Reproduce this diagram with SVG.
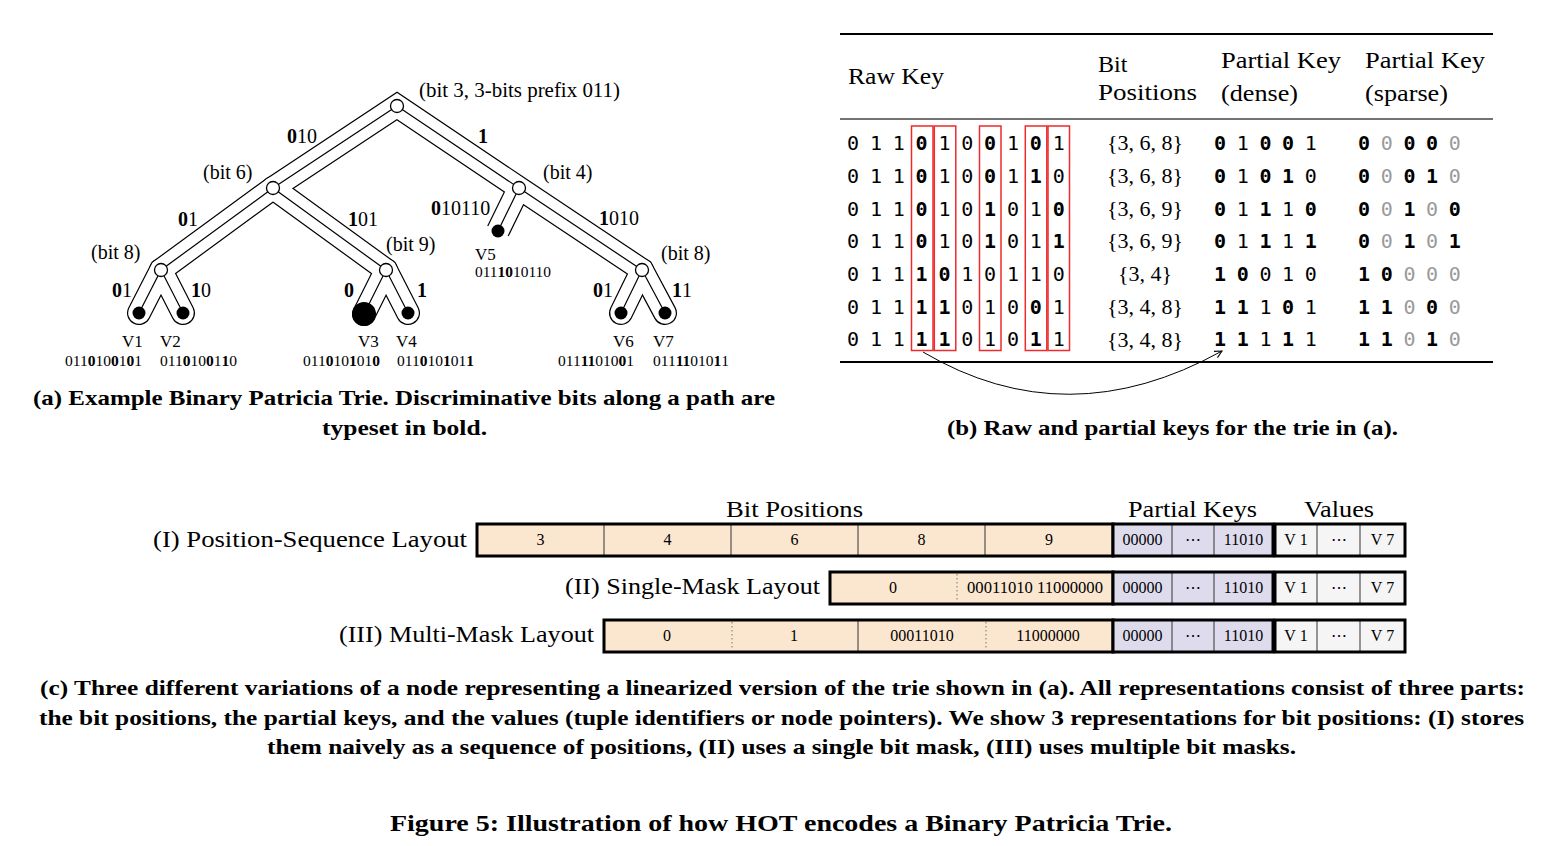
<svg xmlns="http://www.w3.org/2000/svg" width="1560" height="846" viewBox="0 0 1560 846">
<style>
text{font-family:"Liberation Serif","Times New Roman",serif;fill:#000}
.tl{font-size:20px}
.vl{font-size:17px}
.key{font-size:15.5px}
.b{font-weight:bold}
.mono{font-family:"DejaVu Sans Mono","Liberation Mono",monospace;font-size:20px;text-anchor:middle}
.g{fill:#9a9a9a}
.hd{font-size:24px}
.bp{font-size:22px;text-anchor:middle}
.cap{font-size:21px;font-weight:bold}
.lay{font-size:24px}
.cell{font-size:16px;text-anchor:middle}
.tubeB{fill:none;stroke:#000;stroke-width:24;stroke-linecap:round;stroke-linejoin:miter;stroke-miterlimit:10}
.tubeW{fill:none;stroke:#fff;stroke-width:21.6;stroke-linecap:round;stroke-linejoin:miter;stroke-miterlimit:10}
.cl{stroke:#000;stroke-width:1.2;fill:none}
.inner{fill:#fff;stroke:#000;stroke-width:1.3}
.leaf{fill:#000}
.rbox{fill:none;stroke:#ee2a2a;stroke-width:1.5}
.peach{fill:#fbe6cf}
.lav{fill:#dedcec}
.val{fill:#f5f5f5}
.div{stroke:#333;stroke-width:1}
.dot{stroke:#777;stroke-width:1;stroke-dasharray:1.5 2.5}
.frame{fill:none;stroke:#000;stroke-width:3}
</style>
<defs>
<marker id="arr" viewBox="0 0 10 10" refX="9" refY="5" markerWidth="9" markerHeight="9" markerUnits="userSpaceOnUse" orient="auto">
<path d="M1,1 L9,5 L1,9" fill="none" stroke="#000" stroke-width="1.2"/>
</marker>
</defs>
<rect width="1560" height="846" fill="#fff"/>

<!-- (a) trie -->
<g id="connectors">
<path class="tubeB" d="M139,313 L161,270 L273,188 L397,106 L519,188 L642,270 L665,313"/>
<path class="tubeB" d="M183,313 L161,270"/>
<path class="tubeB" d="M273,188 L386,270 L408,313"/>
<path class="tubeB" d="M386,270 L364,314"/>
<path class="tubeB" d="M642,270 L621,313"/>
<path class="tubeB" style="stroke-linecap:butt" d="M519,188 L498,231"/>
<path class="tubeW" d="M139,313 L161,270 L273,188 L397,106 L519,188 L642,270 L665,313"/>
<path class="tubeW" d="M183,313 L161,270"/>
<path class="tubeW" d="M273,188 L386,270 L408,313"/>
<path class="tubeW" d="M386,270 L364,314"/>
<path class="tubeW" d="M642,270 L621,313"/>
<path class="tubeW" style="stroke-linecap:butt" d="M519,188 L497,233"/>
<path class="cl" d="M397,106 L273,188 L161,270 L139,313 M161,270 L183,313 M273,188 L386,270 L364,314 M386,270 L408,313 M397,106 L519,188 L642,270 L621,313 M642,270 L665,313 M519,188 L498,231"/>
</g>

<g id="edge-labels">
<text class="tl" x="287" y="143"><tspan class="b">0</tspan>10</text>
<text class="tl b" x="478" y="143">1</text>
<text class="tl" x="178" y="226"><tspan class="b">0</tspan>1</text>
<text class="tl" x="348" y="226"><tspan class="b">1</tspan>01</text>
<text class="tl" x="431" y="215"><tspan class="b">0</tspan>10110</text>
<text class="tl" x="599" y="225"><tspan class="b">1</tspan>010</text>
<text class="tl" x="112" y="297"><tspan class="b">0</tspan>1</text>
<text class="tl" x="191" y="297"><tspan class="b">1</tspan>0</text>
<text class="tl b" x="344" y="297">0</text>
<text class="tl b" x="417" y="297">1</text>
<text class="tl" x="593" y="297"><tspan class="b">0</tspan>1</text>
<text class="tl" x="672" y="297"><tspan class="b">1</tspan>1</text>
</g>

<g id="node-root">
<circle class="inner" cx="397" cy="106" r="6.5"/>
<text class="tl" x="419" y="97" textLength="201" lengthAdjust="spacingAndGlyphs">(bit 3, 3-bits prefix 011)</text>
</g>
<g id="node-bit6">
<circle class="inner" cx="273" cy="188" r="6.5"/>
<text class="tl" x="203" y="179">(bit 6)</text>
</g>
<g id="node-bit4">
<circle class="inner" cx="519" cy="188" r="6.5"/>
<text class="tl" x="543" y="179">(bit 4)</text>
</g>
<g id="node-bit8-left">
<circle class="inner" cx="161" cy="270" r="6.5"/>
<text class="tl" x="91" y="259">(bit 8)</text>
</g>
<g id="node-bit9">
<circle class="inner" cx="386" cy="270" r="6.5"/>
<text class="tl" x="386" y="251">(bit 9)</text>
</g>
<g id="node-bit8-right">
<circle class="inner" cx="642" cy="270" r="6.5"/>
<text class="tl" x="661" y="260">(bit 8)</text>
</g>

<g id="leaf-v1">
<circle class="leaf" cx="139" cy="313" r="6.5"/>
<text class="vl" x="122" y="347">V1</text>
<text class="key" x="65" y="366" textLength="77" lengthAdjust="spacingAndGlyphs">011<tspan class="b">0</tspan>10<tspan class="b">0</tspan>1<tspan class="b">0</tspan>1</text>
</g>
<g id="leaf-v2">
<circle class="leaf" cx="183" cy="313" r="6.5"/>
<text class="vl" x="160" y="347">V2</text>
<text class="key" x="160" y="366" textLength="77" lengthAdjust="spacingAndGlyphs">011<tspan class="b">0</tspan>10<tspan class="b">0</tspan>1<tspan class="b">1</tspan>0</text>
</g>
<g id="leaf-v3">
<circle class="leaf" cx="364" cy="314" r="12"/>
<text class="vl" x="358" y="347">V3</text>
<text class="key" x="303" y="366" textLength="77" lengthAdjust="spacingAndGlyphs">011<tspan class="b">0</tspan>10<tspan class="b">1</tspan>01<tspan class="b">0</tspan></text>
</g>
<g id="leaf-v4">
<circle class="leaf" cx="408" cy="313" r="6.5"/>
<text class="vl" x="396" y="347">V4</text>
<text class="key" x="397" y="366" textLength="77" lengthAdjust="spacingAndGlyphs">011<tspan class="b">0</tspan>10<tspan class="b">1</tspan>01<tspan class="b">1</tspan></text>
</g>
<g id="leaf-v5">
<circle class="leaf" cx="498" cy="231" r="6.5"/>
<text class="vl" x="475" y="260">V5</text>
<text class="key" x="475" y="277" textLength="76" lengthAdjust="spacingAndGlyphs">011<tspan class="b">1</tspan><tspan class="b">0</tspan>10110</text>
</g>
<g id="leaf-v6">
<circle class="leaf" cx="621" cy="313" r="6.5"/>
<text class="vl" x="613" y="347">V6</text>
<text class="key" x="558" y="366" textLength="76" lengthAdjust="spacingAndGlyphs">011<tspan class="b">1</tspan><tspan class="b">1</tspan>010<tspan class="b">0</tspan>1</text>
</g>
<g id="leaf-v7">
<circle class="leaf" cx="665" cy="313" r="6.5"/>
<text class="vl" x="653" y="347">V7</text>
<text class="key" x="653" y="366" textLength="76" lengthAdjust="spacingAndGlyphs">011<tspan class="b">1</tspan><tspan class="b">1</tspan>010<tspan class="b">1</tspan>1</text>
</g>

<g id="caption-a">
<text class="cap" x="33" y="405" textLength="742" lengthAdjust="spacingAndGlyphs">(a) Example Binary Patricia Trie. Discriminative bits along a path are</text>
<text class="cap" x="322" y="435" textLength="165" lengthAdjust="spacingAndGlyphs">typeset in bold.</text>
</g>

<!-- (b) table -->
<g id="table">
<line x1="840" y1="34" x2="1493" y2="34" stroke="#000" stroke-width="2"/>
<line x1="840" y1="119" x2="1493" y2="119" stroke="#444" stroke-width="1.6"/>
<line x1="840" y1="362" x2="1493" y2="362" stroke="#000" stroke-width="2"/>
<text class="hd" x="848" y="84" textLength="96" lengthAdjust="spacingAndGlyphs">Raw Key</text>
<text class="hd" x="1098" y="72">Bit</text>
<text class="hd" x="1098" y="100" textLength="99" lengthAdjust="spacingAndGlyphs">Positions</text>
<text class="hd" x="1221" y="68" textLength="120" lengthAdjust="spacingAndGlyphs">Partial Key</text>
<text class="hd" x="1221" y="101" textLength="77" lengthAdjust="spacingAndGlyphs">(dense)</text>
<text class="hd" x="1365" y="68" textLength="120" lengthAdjust="spacingAndGlyphs">Partial Key</text>
<text class="hd" x="1365" y="101" textLength="83" lengthAdjust="spacingAndGlyphs">(sparse)</text>

<g id="raw-keys">
<text class="mono" y="150.1" x="853 875.9 898.7 921.6 944.4 967.3 990.1 1013 1035.8 1058.7">011<tspan class="b">0</tspan>10<tspan class="b">0</tspan>1<tspan class="b">0</tspan>1</text>
<text class="mono" y="182.8" x="853 875.9 898.7 921.6 944.4 967.3 990.1 1013 1035.8 1058.7">011<tspan class="b">0</tspan>10<tspan class="b">0</tspan>1<tspan class="b">1</tspan>0</text>
<text class="mono" y="215.5" x="853 875.9 898.7 921.6 944.4 967.3 990.1 1013 1035.8 1058.7">011<tspan class="b">0</tspan>10<tspan class="b">1</tspan>01<tspan class="b">0</tspan></text>
<text class="mono" y="248.2" x="853 875.9 898.7 921.6 944.4 967.3 990.1 1013 1035.8 1058.7">011<tspan class="b">0</tspan>10<tspan class="b">1</tspan>01<tspan class="b">1</tspan></text>
<text class="mono" y="280.9" x="853 875.9 898.7 921.6 944.4 967.3 990.1 1013 1035.8 1058.7">011<tspan class="b">10</tspan>10110</text>
<text class="mono" y="313.6" x="853 875.9 898.7 921.6 944.4 967.3 990.1 1013 1035.8 1058.7">011<tspan class="b">11</tspan>010<tspan class="b">0</tspan>1</text>
<text class="mono" y="346.3" x="853 875.9 898.7 921.6 944.4 967.3 990.1 1013 1035.8 1058.7">011<tspan class="b">11</tspan>010<tspan class="b">1</tspan>1</text>
</g>
<g id="red-boxes">
<rect class="rbox" x="911.5" y="126" width="21.5" height="224.5"/>
<rect class="rbox" x="934.3" y="126" width="21.5" height="224.5"/>
<rect class="rbox" x="979.5" y="126" width="21.5" height="224.5"/>
<rect class="rbox" x="1025.3" y="126" width="21.5" height="224.5"/>
<rect class="rbox" x="1048" y="126" width="21.5" height="224.5"/>
</g>
<g id="bit-positions">
<text class="bp" x="1145" y="150.3">{3, 6, 8}</text>
<text class="bp" x="1145" y="183">{3, 6, 8}</text>
<text class="bp" x="1145" y="215.7">{3, 6, 9}</text>
<text class="bp" x="1145" y="248.4">{3, 6, 9}</text>
<text class="bp" x="1145" y="281.1">{3, 4}</text>
<text class="bp" x="1145" y="313.8">{3, 4, 8}</text>
<text class="bp" x="1145" y="346.5">{3, 4, 8}</text>
</g>
<g id="dense">
<text class="mono" y="150.1" x="1220 1242.7 1265.4 1288.1 1310.8"><tspan class="b">0</tspan>1<tspan class="b">00</tspan>1</text>
<text class="mono" y="182.8" x="1220 1242.7 1265.4 1288.1 1310.8"><tspan class="b">0</tspan>1<tspan class="b">01</tspan>0</text>
<text class="mono" y="215.5" x="1220 1242.7 1265.4 1288.1 1310.8"><tspan class="b">0</tspan>1<tspan class="b">1</tspan>1<tspan class="b">0</tspan></text>
<text class="mono" y="248.2" x="1220 1242.7 1265.4 1288.1 1310.8"><tspan class="b">0</tspan>1<tspan class="b">1</tspan>1<tspan class="b">1</tspan></text>
<text class="mono" y="280.9" x="1220 1242.7 1265.4 1288.1 1310.8"><tspan class="b">10</tspan>010</text>
<text class="mono" y="313.6" x="1220 1242.7 1265.4 1288.1 1310.8"><tspan class="b">11</tspan>1<tspan class="b">0</tspan>1</text>
<text class="mono" y="346.3" x="1220 1242.7 1265.4 1288.1 1310.8"><tspan class="b">11</tspan>1<tspan class="b">1</tspan>1</text>
</g>
<g id="sparse">
<text class="mono" y="150.1" x="1364 1386.7 1409.4 1432.1 1454.8"><tspan class="b">0</tspan><tspan class="g">0</tspan><tspan class="b">00</tspan><tspan class="g">0</tspan></text>
<text class="mono" y="182.8" x="1364 1386.7 1409.4 1432.1 1454.8"><tspan class="b">0</tspan><tspan class="g">0</tspan><tspan class="b">01</tspan><tspan class="g">0</tspan></text>
<text class="mono" y="215.5" x="1364 1386.7 1409.4 1432.1 1454.8"><tspan class="b">0</tspan><tspan class="g">0</tspan><tspan class="b">1</tspan><tspan class="g">0</tspan><tspan class="b">0</tspan></text>
<text class="mono" y="248.2" x="1364 1386.7 1409.4 1432.1 1454.8"><tspan class="b">0</tspan><tspan class="g">0</tspan><tspan class="b">1</tspan><tspan class="g">0</tspan><tspan class="b">1</tspan></text>
<text class="mono" y="280.9" x="1364 1386.7 1409.4 1432.1 1454.8"><tspan class="b">10</tspan><tspan class="g">000</tspan></text>
<text class="mono" y="313.6" x="1364 1386.7 1409.4 1432.1 1454.8"><tspan class="b">11</tspan><tspan class="g">0</tspan><tspan class="b">0</tspan><tspan class="g">0</tspan></text>
<text class="mono" y="346.3" x="1364 1386.7 1409.4 1432.1 1454.8"><tspan class="b">11</tspan><tspan class="g">0</tspan><tspan class="b">1</tspan><tspan class="g">0</tspan></text>
</g>
<path d="M923,352 Q1067,437 1222,351" fill="none" stroke="#000" stroke-width="1" marker-end="url(#arr)"/>
</g>
<text class="cap" x="947" y="435" textLength="451" lengthAdjust="spacingAndGlyphs">(b) Raw and partial keys for the trie in (a).</text>

<!-- (c) layouts -->
<g id="layout-headers">
<text class="lay" x="726" y="517" textLength="137" lengthAdjust="spacingAndGlyphs">Bit Positions</text>
<text class="lay" x="1128" y="517" textLength="129" lengthAdjust="spacingAndGlyphs">Partial Keys</text>
<text class="lay" x="1304" y="517" textLength="70" lengthAdjust="spacingAndGlyphs">Values</text>
</g>

<g id="layout-I">
<text class="lay" x="153" y="547" textLength="314" lengthAdjust="spacingAndGlyphs">(I) Position-Sequence Layout</text>
<rect class="peach" x="477" y="524" width="636" height="32"/>
<line class="div" x1="604" y1="524" x2="604" y2="556"/>
<line class="div" x1="731" y1="524" x2="731" y2="556"/>
<line class="div" x1="858" y1="524" x2="858" y2="556"/>
<line class="div" x1="985" y1="524" x2="985" y2="556"/>
<rect class="frame" x="477" y="524" width="636" height="32"/>
<text class="cell" x="540.5" y="545">3</text>
<text class="cell" x="667.5" y="545">4</text>
<text class="cell" x="794.5" y="545">6</text>
<text class="cell" x="921.5" y="545">8</text>
<text class="cell" x="1049" y="545">9</text>
<rect class="lav" x="1113" y="524" width="160" height="32"/>
<line class="div" x1="1172" y1="524" x2="1172" y2="556"/>
<line class="div" x1="1214" y1="524" x2="1214" y2="556"/>
<rect class="frame" x="1113" y="524" width="160" height="32"/>
<text class="cell" x="1142.5" y="545">00000</text>
<text class="cell" x="1193" y="545">⋯</text>
<text class="cell" x="1243.5" y="545">11010</text>
<rect class="val" x="1275" y="524" width="130" height="32"/>
<line class="div" x1="1317" y1="524" x2="1317" y2="556"/>
<line class="div" x1="1360" y1="524" x2="1360" y2="556"/>
<rect class="frame" x="1275" y="524" width="130" height="32"/>
<text class="cell" x="1296" y="545">V 1</text>
<text class="cell" x="1338.5" y="545">⋯</text>
<text class="cell" x="1382.5" y="545">V 7</text>
</g>

<g id="layout-II">
<text class="lay" x="565" y="594" textLength="255" lengthAdjust="spacingAndGlyphs">(II) Single-Mask Layout</text>
<rect class="peach" x="830" y="572" width="283" height="32"/>
<line class="dot" x1="957" y1="574" x2="957" y2="602"/>
<rect class="frame" x="830" y="572" width="283" height="32"/>
<text class="cell" x="893" y="593">0</text>
<text class="cell" x="1035" y="593" textLength="136" lengthAdjust="spacingAndGlyphs">00011010 11000000</text>
<rect class="lav" x="1113" y="572" width="160" height="32"/>
<line class="div" x1="1172" y1="572" x2="1172" y2="604"/>
<line class="div" x1="1214" y1="572" x2="1214" y2="604"/>
<rect class="frame" x="1113" y="572" width="160" height="32"/>
<text class="cell" x="1142.5" y="593">00000</text>
<text class="cell" x="1193" y="593">⋯</text>
<text class="cell" x="1243.5" y="593">11010</text>
<rect class="val" x="1275" y="572" width="130" height="32"/>
<line class="div" x1="1317" y1="572" x2="1317" y2="604"/>
<line class="div" x1="1360" y1="572" x2="1360" y2="604"/>
<rect class="frame" x="1275" y="572" width="130" height="32"/>
<text class="cell" x="1296" y="593">V 1</text>
<text class="cell" x="1338.5" y="593">⋯</text>
<text class="cell" x="1382.5" y="593">V 7</text>
</g>

<g id="layout-III">
<text class="lay" x="339" y="642" textLength="255" lengthAdjust="spacingAndGlyphs">(III) Multi-Mask Layout</text>
<rect class="peach" x="604" y="620" width="509" height="32"/>
<line class="dot" x1="732" y1="622" x2="732" y2="650"/>
<line class="div" x1="858" y1="620" x2="858" y2="652"/>
<line class="dot" x1="986" y1="622" x2="986" y2="650"/>
<rect class="frame" x="604" y="620" width="509" height="32"/>
<text class="cell" x="667" y="641">0</text>
<text class="cell" x="794" y="641">1</text>
<text class="cell" x="922" y="641">00011010</text>
<text class="cell" x="1048" y="641">11000000</text>
<rect class="lav" x="1113" y="620" width="160" height="32"/>
<line class="div" x1="1172" y1="620" x2="1172" y2="652"/>
<line class="div" x1="1214" y1="620" x2="1214" y2="652"/>
<rect class="frame" x="1113" y="620" width="160" height="32"/>
<text class="cell" x="1142.5" y="641">00000</text>
<text class="cell" x="1193" y="641">⋯</text>
<text class="cell" x="1243.5" y="641">11010</text>
<rect class="val" x="1275" y="620" width="130" height="32"/>
<line class="div" x1="1317" y1="620" x2="1317" y2="652"/>
<line class="div" x1="1360" y1="620" x2="1360" y2="652"/>
<rect class="frame" x="1275" y="620" width="130" height="32"/>
<text class="cell" x="1296" y="641">V 1</text>
<text class="cell" x="1338.5" y="641">⋯</text>
<text class="cell" x="1382.5" y="641">V 7</text>
</g>

<g id="caption-c">
<text class="cap" x="40" y="695" textLength="1485" lengthAdjust="spacingAndGlyphs">(c) Three different variations of a node representing a linearized version of the trie shown in (a). All representations consist of three parts:</text>
<text class="cap" x="39" y="725" textLength="1485" lengthAdjust="spacingAndGlyphs">the bit positions, the partial keys, and the values (tuple identifiers or node pointers). We show 3 representations for bit positions: (I) stores</text>
<text class="cap" x="267" y="754" textLength="1029" lengthAdjust="spacingAndGlyphs">them naively as a sequence of positions, (II) uses a single bit mask, (III) uses multiple bit masks.</text>
</g>
<text class="cap" x="390" y="831" style="font-size:24px" textLength="782" lengthAdjust="spacingAndGlyphs">Figure 5: Illustration of how HOT encodes a Binary Patricia Trie.</text>
</svg>
